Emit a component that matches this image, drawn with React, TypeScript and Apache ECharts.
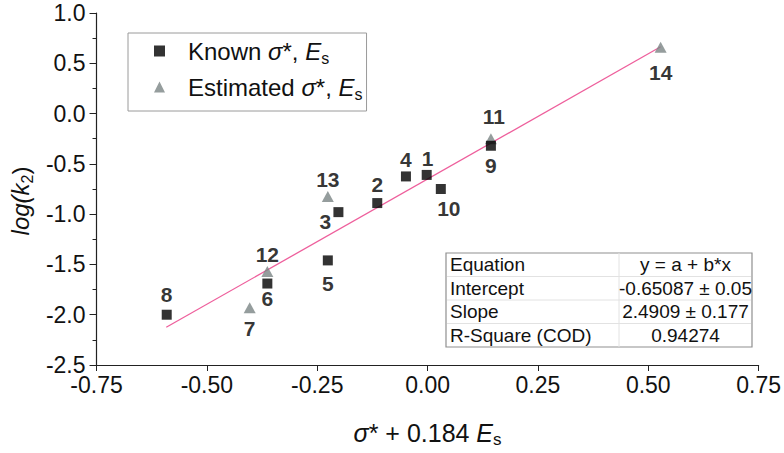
import React, { useEffect, useRef } from "react";
import * as echarts from "echarts";

// ---------- data ----------
const KNOWN_IDS = ["1", "2", "3", "4", "5", "6", "8", "9", "10"];
const KNOWN_X = [-0.002, -0.114, -0.202, -0.049, -0.226, -0.363, -0.591, 0.1435, 0.03];
const KNOWN_Y = [-0.61, -0.89, -0.98, -0.625, -1.46, -1.69, -2.0, -0.32, -0.75];

const EST_IDS = ["7", "11", "12", "13", "14"];
const EST_X = [-0.403, 0.1435, -0.363, -0.226, 0.528];
const EST_Y = [-1.93, -0.25, -1.57, -0.825, 0.66];

// linear fit drawn across the data range (y = a + b*x)
const FIT_X = [-0.592, 0.528];
const FIT_Y = [-2.125, 0.664];

const X_TICKS = { min: -0.75, max: 0.75, interval: 0.25 };
const Y_TICKS = { min: -2.5, max: 1.0, interval: 0.5 };

const TABLE_LABELS = ["Equation", "Intercept", "Slope", "R-Square (COD)"];
const TABLE_VALUES = ["y = a + b*x", "-0.65087 ± 0.05", "2.4909 ± 0.177", "0.94274"];

const KNOWN_NAME = "Known σ*, Es";
const EST_NAME = "Estimated σ*, Es";

// ---------- styles ----------
const FONT = "Arial, 'Liberation Sans', Helvetica, sans-serif";
const LABEL_OFFSETS: Record<string, [number, number]> = {
  "1": [1, -16],
  "2": [0, -19],
  "3": [-13, 9],
  "4": [0, -17],
  "5": [0, 23],
  "6": [0, 15],
  "7": [0, 21],
  "8": [0, -20],
  "9": [0, 20],
  "10": [8, 19],
  "11": [3, -22],
  "12": [0, -17],
  "13": [0, -17],
  "14": [0, 25],
};

const textRich = (size: number) => ({
  n: { fontFamily: FONT, fontSize: size, color: "#111", lineHeight: size + 6, verticalAlign: "middle" as const },
  i: { fontFamily: FONT, fontSize: size, fontStyle: "italic" as const, color: "#111", lineHeight: size + 6, verticalAlign: "middle" as const },
  s: { fontFamily: FONT, fontSize: Math.round(size * 0.66), color: "#111", lineHeight: size + 6, verticalAlign: "bottom" as const },
});

function buildPoints(ids: string[], xs: number[], ys: number[]) {
  return ids.map((id, k) => ({
    name: id,
    value: [xs[k], ys[k]],
    label: { offset: LABEL_OFFSETS[id] },
  }));
}

export default function App() {
  const ref = useRef<HTMLDivElement>(null);

  useEffect(() => {
    if (!ref.current) return;
    const chart = echarts.init(ref.current, null, { renderer: "svg" });

    const pointLabel = {
      show: true,
      position: "inside" as const,
      formatter: "{b}",
      fontFamily: FONT,
      fontSize: 21,
      fontWeight: "bold" as const,
      color: "#000",
      textBorderWidth: 0,
      textBorderColor: "transparent",
    };

    // table geometry
    const tL = 446, tT = 253, tW = 306, rowH = 23.5, divX = 619 - 446;
    const tableChildren: any[] = [
      {
        type: "rect",
        shape: { x: 0, y: 0, width: tW, height: rowH * 4 },
        style: { fill: "#fff", stroke: "#8f8f8f", lineWidth: 1.2 },
      },
      {
        type: "line",
        shape: { x1: divX, y1: 0, x2: divX, y2: rowH * 4 },
        style: { stroke: "#e2e2e2", lineWidth: 1 },
      },
    ];
    for (let r = 1; r < 4; r++) {
      tableChildren.push({
        type: "line",
        shape: { x1: 1, y1: rowH * r, x2: tW - 1, y2: rowH * r },
        style: { stroke: "#e2e2e2", lineWidth: 1 },
      });
    }
    TABLE_LABELS.forEach((lab, r) => {
      tableChildren.push({
        type: "text",
        x: 4,
        y: rowH * r + rowH / 2,
        style: { text: lab, fontFamily: FONT, fontSize: 19, fill: "#111", verticalAlign: "middle", align: "left" },
      });
      tableChildren.push({
        type: "text",
        x: (divX + tW) / 2,
        y: rowH * r + rowH / 2,
        style: { text: TABLE_VALUES[r], fontFamily: FONT, fontSize: 19, fill: "#111", verticalAlign: "middle", align: "center" },
      });
    });

    chart.setOption({
      animation: false,
      backgroundColor: "#fff",
      grid: { left: 92, right: 24, top: 13, bottom: 85, containLabel: false },
      legend: {
        orient: "vertical",
        left: 128,
        top: 33,
        padding: [6, 4, 9, 26],
        itemGap: 9,
        itemWidth: 11,
        itemHeight: 11,
        borderColor: "#9a9a9a",
        borderWidth: 1,
        data: [
          { name: KNOWN_NAME, icon: "rect", itemStyle: { color: "#000" } },
          { name: EST_NAME, icon: "triangle" },
        ],
        formatter: (name: string) =>
          name === KNOWN_NAME
            ? "{n|Known }{i|σ}{n|*, }{i|E}{s|s}"
            : "{n|Estimated }{i|σ}{n|*, }{i|E}{s|s}",
        textStyle: { fontSize: 24, padding: [0, 0, 0, 18], rich: textRich(24) },
      },
      xAxis: {
        type: "value",
        min: X_TICKS.min,
        max: X_TICKS.max,
        interval: X_TICKS.interval,
        name: "{i|σ}{n|* + 0.184 }{i|E}{s|s}",
        nameLocation: "middle",
        nameGap: 52,
        nameTextStyle: { rich: textRich(25) },
        axisLine: { show: true, onZero: false, lineStyle: { color: "#222", width: 1.2 } },
        axisTick: { show: true, inside: false, length: 6, lineStyle: { color: "#222" } },
        minorTick: { show: false },
        splitLine: { show: false },
        axisLabel: {
          fontFamily: FONT,
          fontSize: 23,
          color: "#111",
          margin: 8,
          formatter: (v: number) => v.toFixed(2),
        },
      },
      yAxis: {
        type: "value",
        min: Y_TICKS.min,
        max: Y_TICKS.max,
        interval: Y_TICKS.interval,
        name: "{i|log(k}{s|2}{n|)}",
        nameLocation: "middle",
        nameRotate: 90,
        nameGap: 61,
        nameTextStyle: { rich: textRich(24), padding: [0, 24, 0, 0] },
        axisLine: { show: true, onZero: false, lineStyle: { color: "#222", width: 1.2 } },
        axisTick: { show: true, inside: false, length: 7, lineStyle: { color: "#222" } },
        minorTick: { show: true, splitNumber: 2, length: 4, lineStyle: { color: "#222" } },
        splitLine: { show: false },
        axisLabel: {
          fontFamily: FONT,
          fontSize: 23,
          color: "#111",
          margin: 11,
          formatter: (v: number) => v.toFixed(1),
        },
      },
      series: [
        {
          name: "Linear fit",
          type: "line",
          data: FIT_X.map((x, k) => [x, FIT_Y[k]]),
          showSymbol: false,
          symbol: "none",
          lineStyle: { color: "#ee5f9c", width: 1.3 },
          z: 1,
          silent: true,
        },
        {
          name: EST_NAME,
          type: "scatter",
          symbol: "triangle",
          symbolSize: [12, 11],
          itemStyle: { color: "#7b8585" },
          label: pointLabel,
          data: buildPoints(EST_IDS, EST_X, EST_Y),
          z: 3,
        },
        {
          name: KNOWN_NAME,
          type: "scatter",
          symbol: "rect",
          symbolSize: 10,
          itemStyle: { color: "#000" },
          label: pointLabel,
          data: buildPoints(KNOWN_IDS, KNOWN_X, KNOWN_Y),
          z: 4,
        },
      ],
      graphic: [
        {
          type: "group",
          x: tL,
          y: tT,
          children: tableChildren,
        },
      ],
    });

    return () => chart.dispose();
  }, []);

  return <div ref={ref} style={{ width: 784, height: 453, position: "absolute", left: 0, top: 0 }} />;
}
